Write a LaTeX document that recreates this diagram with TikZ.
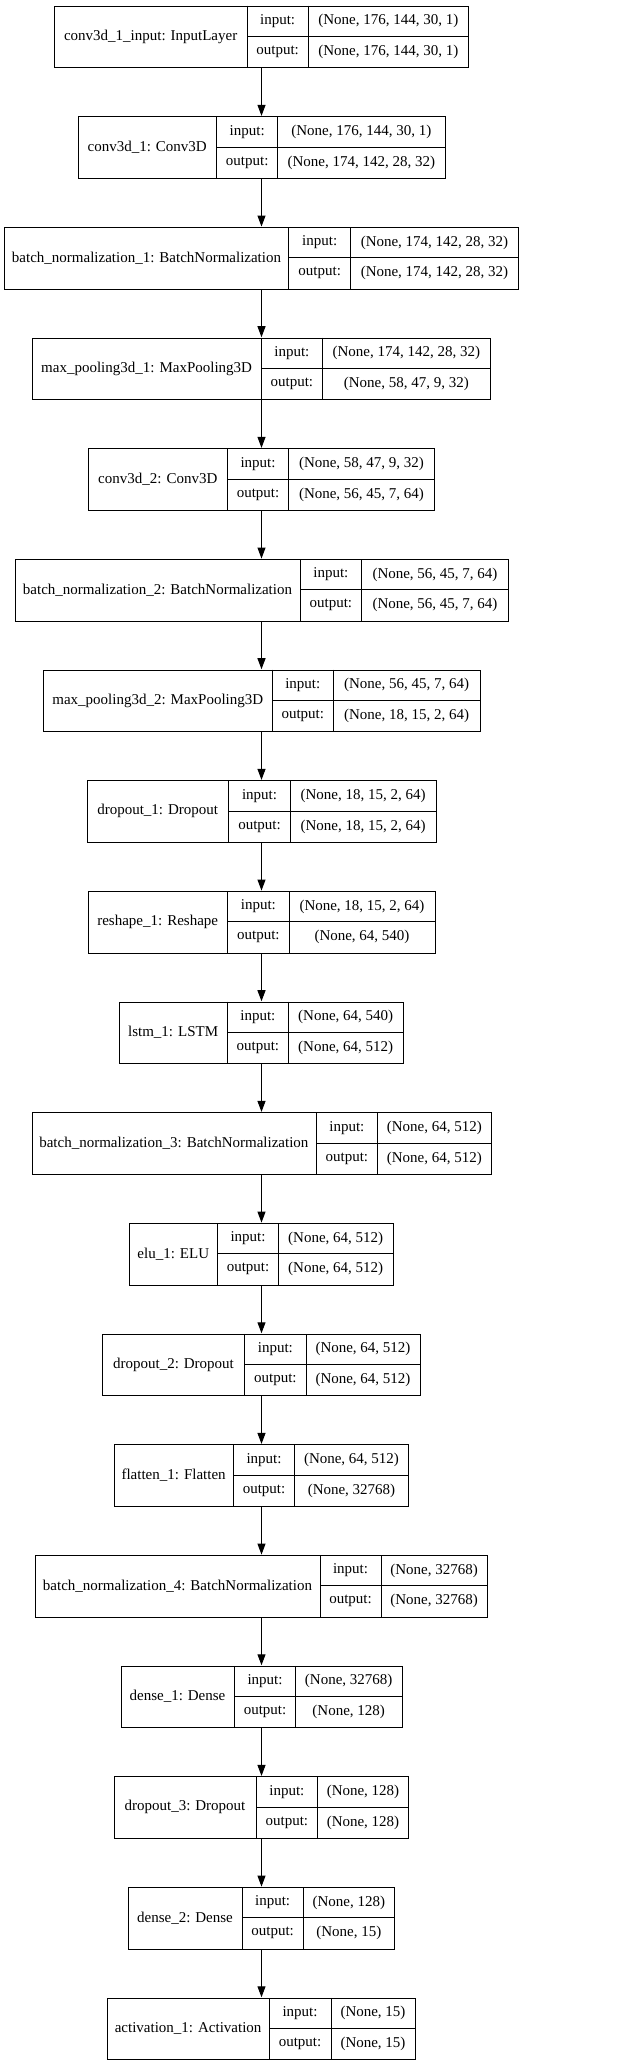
\documentclass[tikz,border=0pt]{standalone}
\usepackage{fontspec}
\setmainfont{Liberation Serif}
\usetikzlibrary{arrows.meta}
\tikzset{
  layerbox/.style={draw=black, line width=1pt, rectangle, inner sep=0pt, minimum height=61.5pt, anchor=north west},
  cell/.style={draw=black, line width=1pt},
  txt/.style={inner sep=0pt, font=\fontsize{15}{18}\selectfont},
  flow/.style={draw=black, line width=1pt, -{Triangle[length=11pt,width=8pt]}, shorten >=0.5pt}
}
% #1 name, #2 index, #3 L, #4 D1, #5 D2, #6 R, #7 label, #8 input, #9 output
\newcommand{\kerasLayer}[9]{%
  \pgfmathsetmacro\lt{5.7+110.67*#2}%
  \pgfmathsetmacro\lw{#6-#3}%
  \pgfmathsetmacro\lm{-\lt-30.75}%
  \pgfmathsetmacro\lu{-\lt-15.375}%
  \pgfmathsetmacro\ld{-\lt-46.125}%
  \node[layerbox, minimum width=\lw pt] (#1) at (#3,-\lt) {};
  \draw[cell] (#4,-\lt) -- ++(0,-61.5);
  \draw[cell] (#5,-\lt) -- ++(0,-61.5);
  \draw[cell] (#4,\lm) -- (#6,\lm);
  \node[txt] at ({(#3+#4)/2},\lm) {#7};
  \node[txt] at ({(#4+#5)/2},\lu) {input:};
  \node[txt] at ({(#4+#5)/2},\ld) {output:};
  \node[txt] at ({(#5+#6)/2},\lu) {#8};
  \node[txt] at ({(#5+#6)/2},\ld) {#9};
}
\begin{document}
\begin{tikzpicture}[x=1pt,y=1pt]
\useasboundingbox (0,0) rectangle (636,-2065);
\fill[white] (0,0) rectangle (636,-2065);
\coordinate (ax) at (261.5,0);
\kerasLayer{n0}{0}{54.3}{247}{308.3}{468.3}{conv3d\_1\_input: InputLayer}{(None, 176, 144, 30, 1)}{(None, 176, 144, 30, 1)}
\kerasLayer{n1}{1}{77.7}{216.7}{277.7}{445}{conv3d\_1: Conv3D}{(None, 176, 144, 30, 1)}{(None, 174, 142, 28, 32)}
\kerasLayer{n2}{2}{4.3}{288.7}{350.7}{518.3}{batch\_normalization\_1: BatchNormalization}{(None, 174, 142, 28, 32)}{(None, 174, 142, 28, 32)}
\kerasLayer{n3}{3}{32.3}{261}{322.7}{490}{max\_pooling3d\_1: MaxPooling3D}{(None, 174, 142, 28, 32)}{(None, 58, 47, 9, 32)}
\kerasLayer{n4}{4}{88.3}{227.3}{288.7}{434.3}{conv3d\_2: Conv3D}{(None, 58, 47, 9, 32)}{(None, 56, 45, 7, 64)}
\kerasLayer{n5}{5}{15}{300}{361.7}{508.3}{batch\_normalization\_2: BatchNormalization}{(None, 56, 45, 7, 64)}{(None, 56, 45, 7, 64)}
\kerasLayer{n6}{6}{43.3}{272.3}{333.3}{480}{max\_pooling3d\_2: MaxPooling3D}{(None, 56, 45, 7, 64)}{(None, 18, 15, 2, 64)}
\kerasLayer{n7}{7}{86.7}{228.7}{290.3}{436}{dropout\_1: Dropout}{(None, 18, 15, 2, 64)}{(None, 18, 15, 2, 64)}
\kerasLayer{n8}{8}{87.7}{227.7}{289}{435}{reshape\_1: Reshape}{(None, 18, 15, 2, 64)}{(None, 64, 540)}
\kerasLayer{n9}{9}{119.3}{227}{288.7}{402.7}{lstm\_1: LSTM}{(None, 64, 540)}{(None, 64, 512)}
\kerasLayer{n10}{10}{31.7}{316}{377.7}{491}{batch\_normalization\_3: BatchNormalization}{(None, 64, 512)}{(None, 64, 512)}
\kerasLayer{n11}{11}{129.3}{217.3}{278.7}{392.7}{elu\_1: ELU}{(None, 64, 512)}{(None, 64, 512)}
\kerasLayer{n12}{12}{102.3}{244.7}{306}{420}{dropout\_2: Dropout}{(None, 64, 512)}{(None, 64, 512)}
\kerasLayer{n13}{13}{114}{233.3}{294.7}{408.3}{flatten\_1: Flatten}{(None, 64, 512)}{(None, 32768)}
\kerasLayer{n14}{14}{35}{320}{381}{487.3}{batch\_normalization\_4: BatchNormalization}{(None, 32768)}{(None, 32768)}
\kerasLayer{n15}{15}{120.7}{234.3}{295.7}{401.7}{dense\_1: Dense}{(None, 32768)}{(None, 128)}
\kerasLayer{n16}{16}{114}{256}{317.7}{408.3}{dropout\_3: Dropout}{(None, 128)}{(None, 128)}
\kerasLayer{n17}{17}{128}{242}{303.3}{394.3}{dense\_2: Dense}{(None, 128)}{(None, 15)}
\kerasLayer{n18}{18}{107.3}{269}{331}{415}{activation\_1: Activation}{(None, 15)}{(None, 15)}
\foreach \a/\b in {n0/n1,n1/n2,n2/n3,n3/n4,n4/n5,n5/n6,n6/n7,n7/n8,n8/n9,n9/n10,n10/n11,n11/n12,n12/n13,n13/n14,n14/n15,n15/n16,n16/n17,n17/n18}
  \draw[flow] (\a.south -| ax) -- (\b.north -| ax);
\end{tikzpicture}
\end{document}
